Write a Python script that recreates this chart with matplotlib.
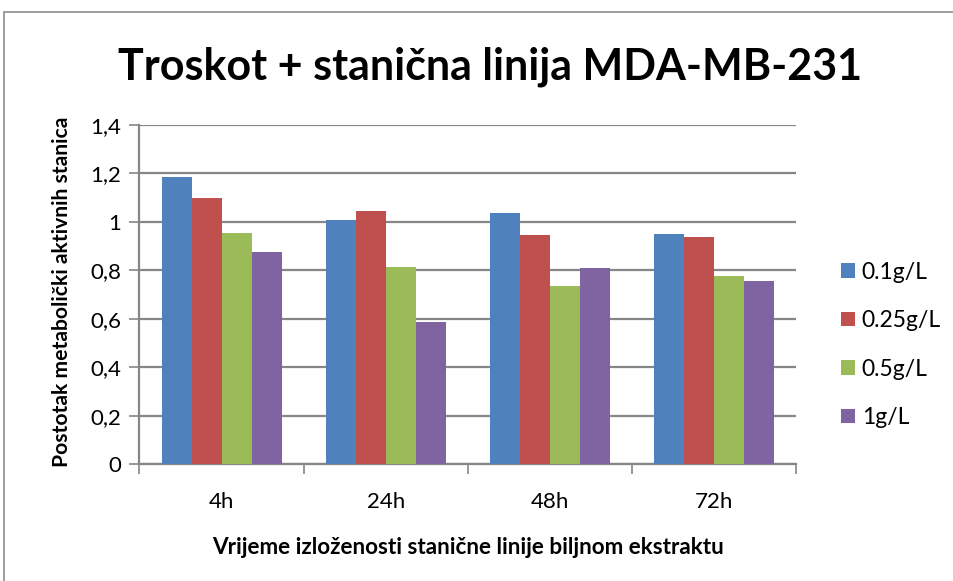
import numpy as np
import matplotlib
matplotlib.use("Agg")
from matplotlib import pyplot as plt
from matplotlib.patches import Rectangle

plt.rcParams["font.family"] = ["Lato", "DejaVu Sans"]

# data
times = ["4h", "24h", "48h", "72h"]
series = ["0.1g/L", "0.25g/L", "0.5g/L", "1g/L"]
conc_01 = [1.184, 1.007, 1.037, 0.951]
conc_025 = [1.098, 1.044, 0.945, 0.935]
conc_05 = [0.953, 0.814, 0.737, 0.777]
conc_1 = [0.874, 0.587, 0.808, 0.754]
yticks = [0, 0.2, 0.4, 0.6, 0.8, 1.0, 1.2, 1.4]
ytick_labels = ["0", "0,2", "0,4", "0,6", "0,8", "1", "1,2", "1,4"]

colors = ["#4F81BD", "#C0504D", "#9BBB59", "#8064A2"]
grid_col = "#868686"

W, H = 954, 581
fig = plt.figure(figsize=(W / 100, H / 100), dpi=100)

# outer chart frame (cut off at right/bottom like the reference)
fig.patches.append(Rectangle((4 / W, -0.1), 2.0, (H - 12) / H + 0.1,
                             transform=fig.transFigure, fill=False,
                             edgecolor="#8c8c8c", linewidth=1.2))

left, right, top, bottom = 139.5, 796, 124.7, 464.3
ax = fig.add_axes([left / W, (H - bottom) / H, (right - left) / W, (bottom - top) / H])

x = np.arange(len(times))
width = 30 / 164
for i, (vals, name) in enumerate(zip([conc_01, conc_025, conc_05, conc_1], series)):
    ax.bar(x + (i - 1.5) * width, vals, width, color=colors[i], label=name, zorder=3)

ax.set_xlim(-0.5, len(times) - 0.5)
ax.set_ylim(0, 1.4)
ax.set_yticks(yticks)
ax.set_yticklabels(ytick_labels, fontsize=16)
ax.yaxis.grid(True, color=grid_col, linewidth=1.6, zorder=0)

ax.set_xticks(np.arange(-0.5, len(times)), labels=[""] * (len(times) + 1))
ax.set_xticks(x, labels=times, minor=True, fontsize=16)
ax.tick_params(axis="x", which="major", length=7, width=1.2, color=grid_col, direction="out")
ax.tick_params(axis="x", which="minor", length=0, pad=20)
ax.tick_params(axis="y", length=7, width=1.2, color=grid_col, direction="out", pad=6)

for s in ["top", "right"]:
    ax.spines[s].set_visible(False)
for s in ["left", "bottom"]:
    ax.spines[s].set_color(grid_col)
    ax.spines[s].set_linewidth(1.6)

fig.text(490 / W, 1 - 67 / H, "Troskot + stanična linija MDA-MB-231",
         ha="center", va="center", fontsize=31, fontweight="bold")
fig.text(62 / W, 1 - 292 / H, "Postotak metabolički aktivnih stanica",
         ha="center", va="center", rotation=90, fontsize=15.2, fontweight="bold")
fig.text(468 / W, 1 - 548 / H, "Vrijeme izloženosti stanične linije biljnom ekstraktu",
         ha="center", va="center", fontsize=16.2, fontweight="bold")

leg = fig.legend(loc="upper left", bbox_to_anchor=(820 / W, 1 - 241 / H), frameon=False,
                 fontsize=16.5, handlelength=0.62, handleheight=0.62, handletextpad=0.3,
                 labelspacing=1.2)

fig.savefig("out.png", dpi=100)
